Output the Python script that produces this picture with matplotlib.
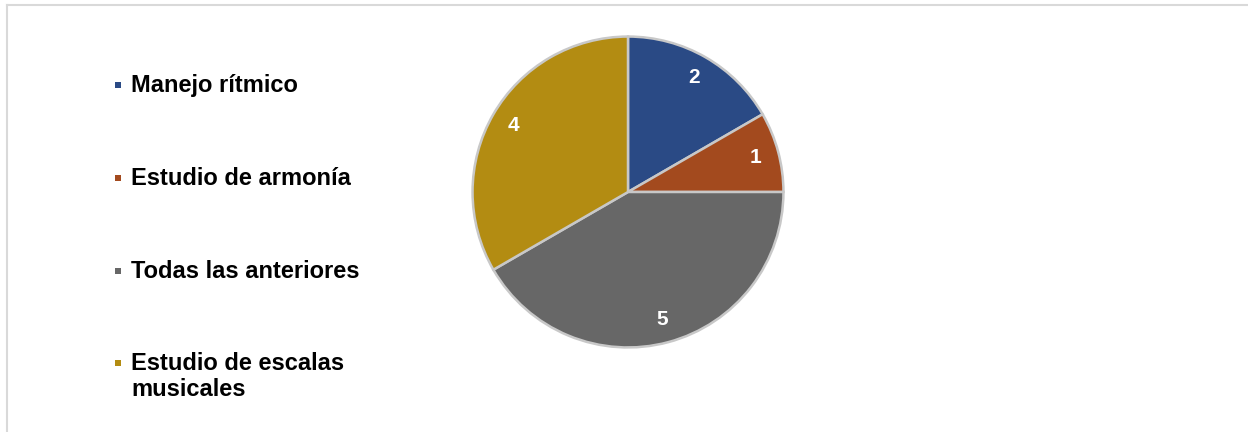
import matplotlib.pyplot as plt
from matplotlib.patches import Rectangle
from matplotlib.lines import Line2D

# datos del grafico
categorias = ["Manejo rítmico", "Estudio de armonía", "Todas las anteriores",
              "Estudio de escalas\nmusicales"]
valores = [2, 1, 5, 4]
colores = ["#2a4a85", "#a34a1e", "#676767", "#b38c12"]

plt.rcParams['font.family'] = ['Liberation Sans', 'DejaVu Sans']

fig = plt.figure(figsize=(12.48, 4.32), dpi=100)
W, H = 1248, 432

# marco gris claro (arriba e izquierda)
fig.add_artist(Line2D([7 / W, 1], [1 - 5 / H, 1 - 5 / H], color="#d9d9d9", lw=1.5))
fig.add_artist(Line2D([7 / W, 7 / W], [0, 1 - 5 / H], color="#d9d9d9", lw=1.5))

# pastel
cx, cy, r = 628, 192, 157
ax = fig.add_axes([(cx - r) / W, (H - cy - r) / H, 2 * r / W, 2 * r / H])
wedges, textos = ax.pie(valores, colors=colores, startangle=90, counterclock=False,
                        labels=[str(v) for v in valores], labeldistance=0.85,
                        wedgeprops=dict(edgecolor="#c8c8c8", linewidth=1.8),
                        textprops=dict(color="white", fontsize=15, fontweight="bold"))
for t in textos:
    t.set_ha("center")
    t.set_va("center")
ax.set_xlim(-1.01, 1.01)
ax.set_ylim(-1.01, 1.01)
ax.set_aspect("equal")
ax.axis("off")

# leyenda manual
y_items = [85, 178, 271, 363]
for nombre, color, y in zip(categorias, colores, y_items):
    fig.add_artist(Rectangle((115 / W, 1 - (y + 3) / H), 6 / W, 6 / H,
                             facecolor=color, edgecolor="none"))
    fig.text(131 / W, 1 - (y - 11) / H, nombre, fontsize=17, fontweight="bold",
             ha="left", va="top", linespacing=1.15, color="black")

fig.savefig("out.png", dpi=100)
